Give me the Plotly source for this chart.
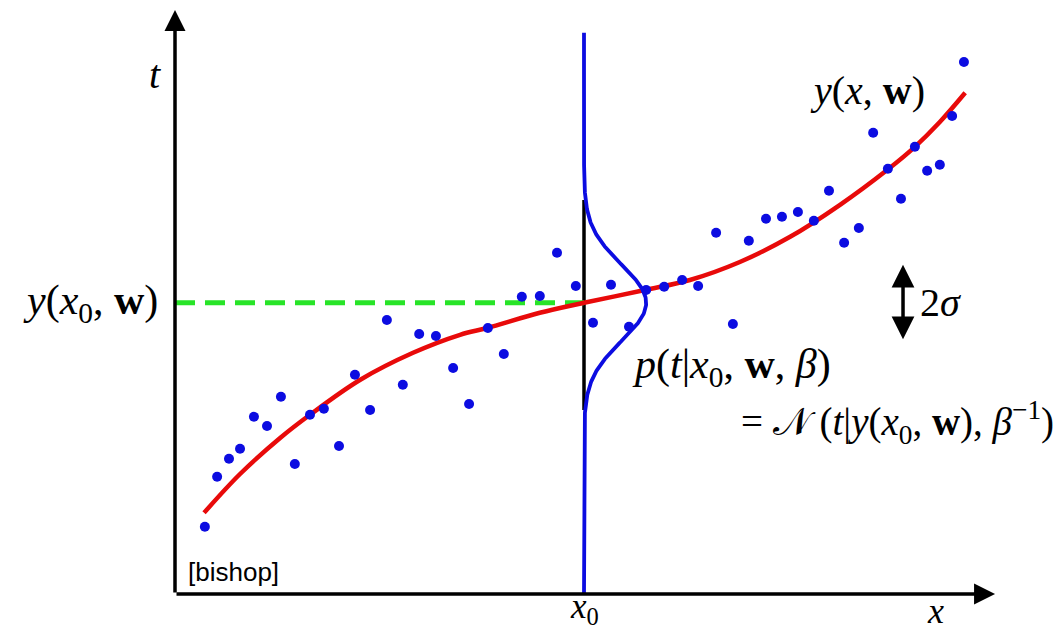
import numpy as np
import plotly.graph_objects as go

# Observed training points (x, t)
obs_x = [0.73, 1.03, 1.32, 1.59, 1.93, 2.25, 2.59, 2.93, 3.30, 3.64,
         4.01, 4.40, 4.77, 5.18, 5.57, 5.97, 6.38, 6.80, 7.19, 7.65,
         8.04, 8.48, 8.92, 9.34, 9.80, 10.22, 10.66, 11.10, 11.52, 11.96,
         12.40, 12.79, 13.23, 13.64, 14.03, 14.45, 14.84, 15.23, 15.62, 15.99,
         16.36, 16.72, 17.07, 17.43, 17.75, 18.09, 18.39, 18.70, 19.00, 19.29]
obs_t = [1.68, 2.93, 3.38, 3.63, 4.43, 4.20, 4.93, 3.25, 4.48, 4.63,
         3.70, 5.48, 4.60, 6.85, 5.23, 6.50, 6.45, 5.65, 4.75, 6.65,
         6.00, 7.43, 7.45, 8.53, 7.70, 6.78, 7.73, 6.68, 7.60, 7.68,
         7.85, 7.70, 9.03, 6.75, 8.83, 9.38, 9.43, 9.55, 9.33, 10.08,
         8.78, 9.15, 11.53, 10.63, 9.88, 11.18, 10.58, 10.73, 11.95, 13.30]

# Fitted regression curve y(x, w)
fit_x = [0.71, 1.59, 2.57, 3.30, 4.52, 5.82, 6.97, 7.63, 8.92, 10.0,
         11.49, 12.59, 13.81, 15.04, 16.26, 17.41, 18.09, 18.70, 19.32]
fit_t = [2.03, 3.00, 3.90, 4.48, 5.35, 6.03, 6.48, 6.65, 7.03, 7.28,
         7.60, 7.85, 8.30, 8.93, 9.73, 10.60, 11.18, 11.80, 12.53]

# Predictive distribution at x0
X0 = 10.0
MU = 7.28          # y(x0, w)
SIGMA = 0.95       # beta^(-1/2)
PEAK = 1.52        # horizontal height of the density curve
T_TOP = 14.03      # top of the vertical line through x0

X_END = 20.05      # x-axis arrow tip
T_END = 14.6       # t-axis arrow tip

t_grid = np.linspace(0.0, T_TOP, 600)
dens_x = X0 + PEAK * np.exp(-0.5 * ((t_grid - MU) / SIGMA) ** 2)

BLUE = "rgb(12,12,225)"
RED = "rgb(232,10,10)"
GREEN = "rgb(40,228,40)"
SERIF = "Liberation Serif"

fig = go.Figure()

# black segment on x0 under the density
fig.add_trace(go.Scatter(x=[X0, X0], y=[4.6, 9.85], mode="lines",
                         line=dict(color="black", width=3.5), hoverinfo="skip"))
# dashed guide at y(x0, w)
fig.add_trace(go.Scatter(x=[0, X0], y=[MU, MU], mode="lines",
                         line=dict(color=GREEN, width=5, dash="20px,10px"), hoverinfo="skip"))
# regression curve
fig.add_trace(go.Scatter(x=fit_x, y=fit_t, mode="lines", line_shape="spline",
                         line=dict(color=RED, width=4.5)))
# data points
fig.add_trace(go.Scatter(x=obs_x, y=obs_t, mode="markers",
                         marker=dict(color=BLUE, size=10, line=dict(width=0))))
# vertical line through x0 carrying the Gaussian
fig.add_trace(go.Scatter(x=dens_x, y=t_grid, mode="lines",
                         line=dict(color=BLUE, width=3.8), hoverinfo="skip"))

def arrow(x, y, ax, ay, side="end", width=3.5, size=1.2):
    fig.add_annotation(x=x, y=y, ax=ax, ay=ay, xref="x", yref="y", axref="x", ayref="y",
                       showarrow=True, arrowhead=2, arrowside=side, arrowsize=size,
                       arrowwidth=width, arrowcolor="black", text="")

# axes with arrow heads
arrow(0, T_END, 0, 0)
arrow(X_END, 0, 0, 0)
# 2 sigma indicator
arrow(17.8, MU + SIGMA, 17.8, MU - SIGMA, side="end+start", width=3.5, size=1.3)

def label(x, y, text, size=42, xanchor="center", family=SERIF):
    fig.add_annotation(x=x, y=y, xref="x", yref="y", text=text, showarrow=False,
                       xanchor=xanchor, yanchor="middle",
                       font=dict(family=family, size=size, color="black"))

label(-0.49, 12.98, "<i>t</i>", size=40)
label(-0.37, MU, "<i>y</i>(<i>x</i><sub>0</sub>, <b>w</b>)", xanchor="right")
label(X0, -0.36, "<i>x</i><sub>0</sub>", size=35)
label(18.6, -0.42, "<i>x</i>", size=36)
label(16.92, 12.6, "<i>y</i>(<i>x</i>, <b>w</b>)", size=40)
label(18.17, MU, "2<i>σ</i>", xanchor="left", size=40)
label(11.12, 5.68, "<i>p</i>(<i>t</i>|<i>x</i><sub>0</sub>, <b>w</b>, <i>β</i>)", xanchor="left")
label(21.54, 4.28, "= 𝒩 (<i>t</i>|<i>y</i>(<i>x</i><sub>0</sub>, <b>w</b>), <i>β</i><sup>−1</sup>)",
      xanchor="right", size=39)
label(0.27, 0.55, "[bishop]", size=26, xanchor="left", family="Liberation Sans")

fig.update_layout(
    width=1059, height=631,
    margin=dict(l=0, r=0, t=0, b=0),
    paper_bgcolor="white", plot_bgcolor="white",
    showlegend=False,
    xaxis=dict(range=[-4.2787, 21.6137], visible=False, fixedrange=True),
    yaxis=dict(range=[-0.925, 14.85], visible=False, fixedrange=True),
)

fig.write_html("out.html")
